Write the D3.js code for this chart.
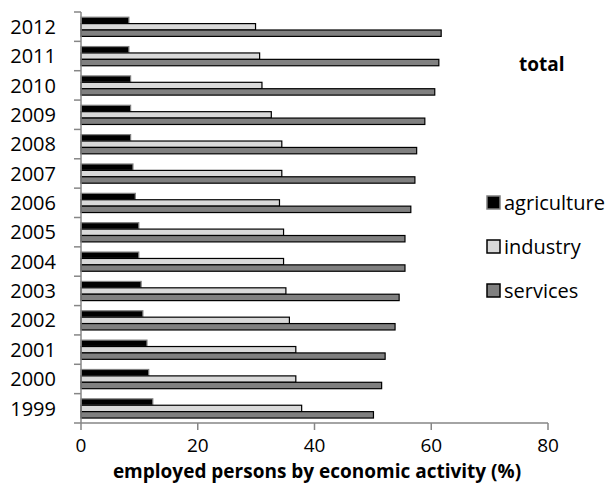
<!DOCTYPE html>
<html>
<head>
<meta charset="utf-8">
<script src="https://cdn.jsdelivr.net/npm/d3@7"></script>
<style>
  html, body { margin: 0; padding: 0; background: #fff; }
  svg { display: block; }
  text { font-family: "Open Sans", "Liberation Sans", sans-serif; fill: #000; }
</style>
</head>
<body>
<svg id="chart" width="612" height="485"></svg>
<script>
const years = ["1999","2000","2001","2002","2003","2004","2005","2006","2007","2008","2009","2010","2011","2012"];
const seriesNames = ["agriculture","industry","services"];
const agriculture = [12.3,11.6,11.3,10.6,10.3,9.9,9.9,9.3,8.9,8.5,8.5,8.5,8.2,8.2];
const industry    = [37.8,36.8,36.8,35.7,35.1,34.7,34.7,34.0,34.4,34.4,32.6,31.0,30.6,29.9];
const services    = [50.1,51.5,52.1,53.8,54.5,55.5,55.5,56.5,57.2,57.5,58.9,60.6,61.3,61.7];
const xTicks = [0,20,40,60,80];
const titleText = "total";
const xAxisTitle = "employed persons by economic activity (%)";

const seriesValues = { agriculture, industry, services };
const fills = { agriculture: "#000000", industry: "#d9d9d9", services: "#808080" };
const strokes = { agriculture: "#7f7f7f", industry: "#000000", services: "#000000" };
const axisColor = "#868686";

const svg = d3.select("#chart");

const x = d3.scaleLinear().domain([0, 80]).range([81, 548]);
const y = d3.scaleBand().domain(years.slice().reverse()).range([12, 423]).padding(0);
const sub = d3.scaleBand().domain(seriesNames).range([5.2, 24.4]).padding(0);

// bars
const groups = svg.append("g").selectAll("g")
  .data(years)
  .join("g")
  .attr("transform", d => `translate(0,${y(d)})`);

seriesNames.forEach(s => {
  groups.append("rect")
    .attr("x", x(0))
    .attr("y", () => sub(s))
    .attr("width", d => x(seriesValues[s][years.indexOf(d)]) - x(0))
    .attr("height", sub.bandwidth())
    .attr("fill", fills[s])
    .attr("stroke", strokes[s])
    .attr("stroke-width", 1.2);
});

// y axis line and ticks at category boundaries
const yAxisG = svg.append("g");
yAxisG.append("line")
  .attr("x1", x(0)).attr("x2", x(0))
  .attr("y1", y.range()[0]).attr("y2", y.range()[1])
  .attr("stroke", axisColor).attr("stroke-width", 1.5);
const boundaries = years.map(d => y(d)).concat([y.range()[1]]);
yAxisG.selectAll("line.tick").data(boundaries).join("line")
  .attr("class", "tick")
  .attr("x1", x(0) - 7).attr("x2", x(0))
  .attr("y1", d => d).attr("y2", d => d)
  .attr("stroke", axisColor).attr("stroke-width", 1.5);
yAxisG.selectAll("text").data(years).join("text")
  .attr("x", 56)
  .attr("y", d => y(d) + y.bandwidth() / 2)
  .attr("dy", "0.36em")
  .attr("text-anchor", "end")
  .attr("font-size", 20)
  .text(d => d);

// x axis
const xAxisG = svg.append("g");
xAxisG.append("line")
  .attr("x1", x(0)).attr("x2", x(80))
  .attr("y1", 423).attr("y2", 423)
  .attr("stroke", axisColor).attr("stroke-width", 1.5);
xAxisG.selectAll("line.tick").data(xTicks).join("line")
  .attr("class", "tick")
  .attr("x1", d => x(d)).attr("x2", d => x(d))
  .attr("y1", 423).attr("y2", 430)
  .attr("stroke", axisColor).attr("stroke-width", 1.5);
xAxisG.selectAll("text").data(xTicks).join("text")
  .attr("x", d => x(d))
  .attr("y", 452)
  .attr("text-anchor", "middle")
  .attr("font-size", 19)
  .text(d => d);

svg.append("text")
  .attr("x", 317)
  .attr("y", 478)
  .attr("text-anchor", "middle")
  .attr("font-size", 19)
  .attr("font-weight", "bold")
  .text(xAxisTitle);

// title
svg.append("text")
  .attr("x", 519)
  .attr("y", 71)
  .attr("font-size", 19)
  .attr("font-weight", "bold")
  .text(titleText);

// legend
const legend = svg.append("g").selectAll("g")
  .data(seriesNames)
  .join("g")
  .attr("transform", (d, i) => `translate(487,${203 + i * 44})`);
legend.append("rect")
  .attr("x", 0).attr("y", -7)
  .attr("width", 13).attr("height", 13)
  .attr("fill", d => fills[d])
  .attr("stroke", d => strokes[d])
  .attr("stroke-width", 1.5);
legend.append("text")
  .attr("x", 17)
  .attr("y", 0)
  .attr("dy", "0.33em")
  .attr("font-size", 20)
  .text(d => d);
</script>
</body>
</html>
